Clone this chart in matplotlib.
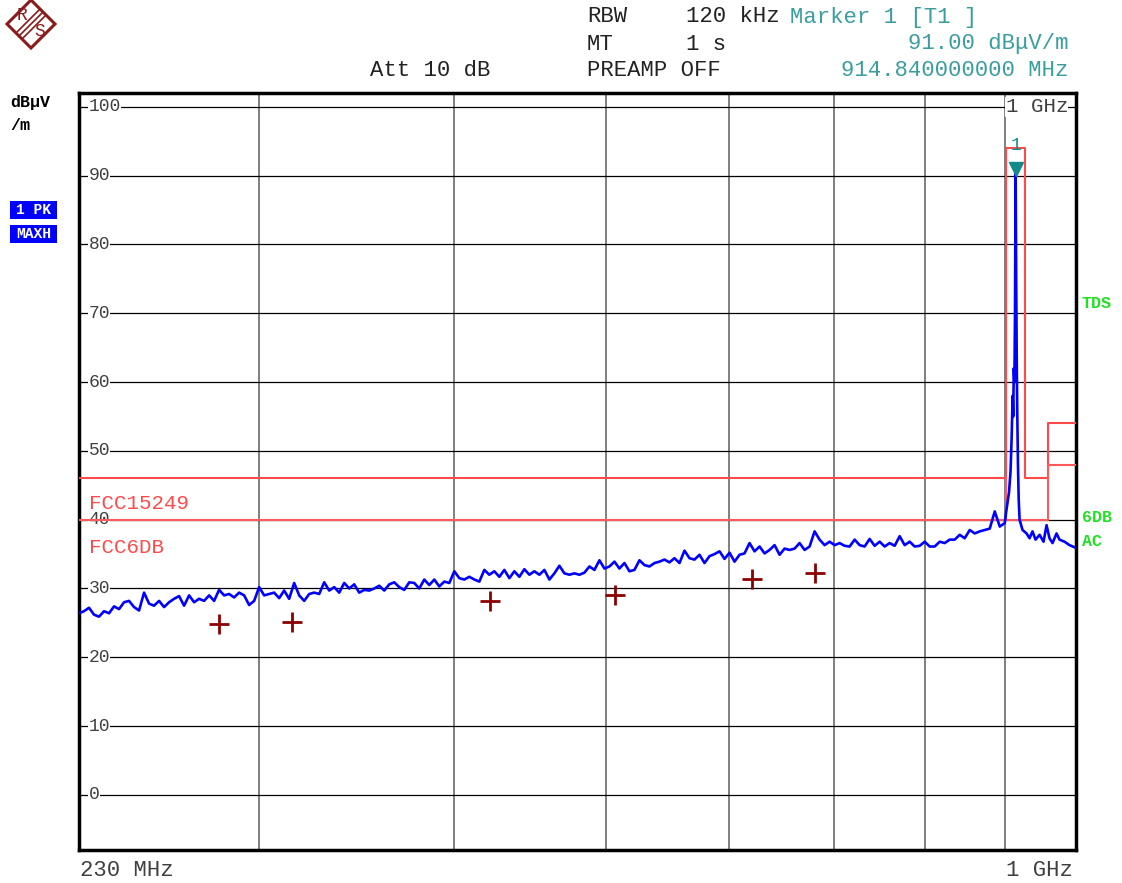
import numpy as np
import matplotlib.pyplot as plt
from matplotlib.patches import Polygon, Rectangle
from matplotlib.transforms import blended_transform_factory

W, H = 1122, 883
MONO = ['Liberation Mono', 'DejaVu Sans Mono']

# max-hold trace, 230 MHz .. 900 MHz (equal log steps)
trace_start, trace_stop = 230.0, 900.3
trace_levels = [
    26.4, 26.7, 27.2, 26.2, 25.9, 26.7, 26.4, 27.4, 27.0, 28.0, 28.2, 27.3, 26.8, 29.4,
    27.8, 27.5, 28.2, 27.3, 28.0, 28.5, 28.9, 27.5, 29.0, 28.0, 28.5, 28.2, 29.0, 28.2,
    29.8, 29.0, 29.2, 28.7, 29.4, 29.0, 27.6, 28.2, 30.2, 29.0, 29.2, 29.4, 28.6, 29.7,
    28.5, 30.8, 29.0, 28.2, 29.2, 29.4, 29.2, 30.9, 29.7, 30.2, 29.4, 30.8, 30.0, 30.6,
    29.4, 29.8, 29.7, 30.0, 30.4, 29.7, 30.6, 30.9, 30.2, 29.8, 30.9,
    30.8, 30.0, 31.3, 30.5, 31.3, 30.3, 31.0, 30.8, 32.5, 31.5, 31.3, 31.7, 31.3, 31.0,
    32.7, 32.0, 32.5, 31.7, 32.7, 31.5, 32.5, 31.7, 32.8, 32.0, 32.5, 32.0, 32.7, 31.3,
    32.2, 33.3, 32.2, 32.0, 32.2, 32.0, 32.3, 33.2, 32.7, 34.1, 32.9, 33.2, 33.9, 32.9,
    33.7, 32.5, 32.7, 34.1, 33.4, 33.2, 33.7, 33.9, 34.2, 33.8, 34.4, 33.7, 35.5, 34.4,
    34.2, 34.9, 33.7, 34.7, 35.0, 35.4, 34.3, 35.2, 33.9, 34.9,
    35.1, 36.6, 35.4, 36.1, 35.1, 35.6, 36.3, 34.9, 35.8, 35.6, 35.8, 36.6, 35.6, 36.1,
    38.3, 37.1, 36.3, 36.8, 36.3, 36.6, 36.2, 36.1, 37.1, 36.3, 36.1, 37.2, 36.2, 36.8,
    36.1, 36.6, 36.2, 37.6, 36.3, 36.8, 36.1, 36.2, 36.8, 36.1, 36.1, 36.8, 36.6, 37.1,
    37.1, 37.8, 37.3, 38.5, 38.0, 38.3, 38.5, 38.7, 41.2, 39.0, 39.5,
]
# carrier at 914.84 MHz
peak_freq = [902.0, 904.0, 906.0, 908.0, 909.5, 910.8, 911.6, 912.4, 913.2, 914.0,
             914.84, 915.6, 916.3, 917.0, 918.0, 919.0]
peak_levels = [41.0, 42.5, 44.0, 47.0, 52.0, 58.0, 55.0, 62.0, 60.0, 70.0,
               91.0, 75.0, 64.0, 56.0, 48.0, 43.0]
# above the carrier
tail_freq = [920.2, 924.2, 929.7, 933.8, 937.9, 942.1, 947.7, 953.3, 957.5, 961.7,
             966.0, 971.7, 976.0, 983.2, 990.5, 1000.0]
tail_levels = [40.0, 38.5, 38.0, 37.3, 38.3, 37.1, 37.8, 36.8, 39.2, 37.3,
               36.6, 38.0, 37.1, 36.8, 36.3, 35.9]

# limit lines
fcc15249_freq = [230, 902, 902, 928, 928, 960, 960, 1000]
fcc15249_level = [46, 46, 94, 94, 46, 46, 54, 54]
fcc6db_freq = [230, 902, 902, 902, 960, 960, 1000]
fcc6db_level = [40, 40, 46, 40, 40, 48, 48]

# quasi-peak results
qp_freq = [282.8, 315.0, 421.4, 506.7, 620.3, 681.0]
qp_level = [24.8, 25.1, 28.2, 29.0, 31.4, 32.3]

marker_freq, marker_level = 914.84, 91.0

grid_freq = [300, 400, 500, 600, 700, 800, 900]
grid_level = [0, 10, 20, 30, 40, 50, 60, 70, 80, 90, 100]


def fx(x):
    return x / W


def fy(y):
    return 1 - y / H


fig = plt.figure(figsize=(W / 100, H / 100), dpi=100)
ax = fig.add_axes([fx(79), fy(850), fx(1076) - fx(79), fy(93) - fy(850)])
ax.set_xscale('log')
ax.set_xlim(230, 1000)
ax.set_ylim(-8, 102)
ax.set_xticks([])
ax.set_yticks([])
ax.minorticks_off()
for s in ax.spines.values():
    s.set_linewidth(2.5)
    s.set_color('black')

for f in grid_freq:
    ax.axvline(f, color='#6a6a6a', lw=1.2, zorder=1)
for lv in grid_level:
    ax.axhline(lv, color='black', lw=0.9, zorder=1)

tr = blended_transform_factory(ax.transAxes, ax.transData)
for lv in grid_level:
    ax.text(0.0095, lv, str(lv), transform=tr, ha='left', va='center',
            family=MONO, fontsize=13, color='#404040', zorder=2,
            bbox=dict(facecolor='white', edgecolor='none', pad=0.3))
ax.text(0.992, 100, '1 GHz', transform=tr, ha='right', va='center',
        family=MONO, fontsize=15, color='#404040', zorder=2,
        bbox=dict(facecolor='white', edgecolor='none', pad=0.3))

# limit lines
ax.plot(fcc15249_freq, fcc15249_level, color='#ff4a4a', lw=1.5, zorder=3)
ax.plot(fcc6db_freq, fcc6db_level, color='#ff5a5a', lw=1.5, zorder=3)
ax.text(0.01, 42.4, 'FCC15249', transform=tr, family=MONO, fontsize=15,
        color='#ff4a4a', va='center', ha='left', zorder=4)
ax.text(0.01, 35.9, 'FCC6DB', transform=tr, family=MONO, fontsize=15,
        color='#ff4a4a', va='center', ha='left', zorder=4)

# trace
trace_freq = np.geomspace(trace_start, trace_stop, len(trace_levels))
freq = np.concatenate([trace_freq, peak_freq, tail_freq])
level = np.concatenate([trace_levels, peak_levels, tail_levels])
ax.plot(freq, level, color='#0000ff', lw=1.9, zorder=5)

# quasi-peak crosses
ax.plot(qp_freq, qp_level, ls='none', marker='+', ms=14, mew=2,
        color='#8b0000', zorder=6)

# marker 1
ax.plot([marker_freq], [marker_level], marker='v', ms=10, color='#138a8a',
        ls='none', zorder=7)
ax.text(marker_freq, 93.2, '1', family=MONO, fontsize=13, color='#138a8a',
        ha='center', va='bottom', zorder=7)

# header
dark = '#222222'
teal = '#3a9e9e'
hdr = dict(family=MONO, fontsize=16, va='center')
fig.text(fx(587), fy(17), 'RBW', color=dark, ha='left', **hdr)
fig.text(fx(686), fy(17), '120 kHz', color=dark, ha='left', **hdr)
fig.text(fx(790), fy(17), 'Marker 1 [T1 ]', color=teal, ha='left', **hdr)
fig.text(fx(587), fy(44), 'MT', color=dark, ha='left', **hdr)
fig.text(fx(686), fy(44), '1 s', color=dark, ha='left', **hdr)
fig.text(fx(1068), fy(44), '91.00 dB\u03bcV/m', color=teal, ha='right', **hdr)
fig.text(fx(370), fy(71), 'Att 10 dB', color=dark, ha='left', **hdr)
fig.text(fx(587), fy(71), 'PREAMP OFF', color=dark, ha='left', **hdr)
fig.text(fx(1068), fy(71), '914.840000000 MHz', color=teal, ha='right', **hdr)

fig.text(fx(80), fy(870), '230 MHz', color='#404040', ha='left', **hdr)
fig.text(fx(1073), fy(870), '1 GHz', color='#404040', ha='right', **hdr)

# unit + trace info on the left
fig.text(fx(10), fy(103), 'dB\u03bcV', family=MONO, fontsize=12, weight='bold',
         color='black', va='center')
fig.text(fx(10), fy(126), '/m', family=MONO, fontsize=12, weight='bold',
         color='black', va='center')
for yy, txt in [(210, '1 PK'), (234, 'MAXH')]:
    fig.patches.append(Rectangle((fx(10), fy(yy + 9)), fx(57) - fx(10), fy(yy - 9) - fy(yy + 9),
                                 transform=fig.transFigure, facecolor='#0000ff',
                                 edgecolor='none'))
    fig.text(fx(33.5), fy(yy), txt, family=MONO, fontsize=10.5, weight='bold',
             color='white', va='center', ha='center')

# right side flags
green = '#22e022'
for yy, txt in [(303, 'TDS'), (518, '6DB'), (542, 'AC')]:
    fig.text(fx(1082), fy(yy), txt, family=MONO, fontsize=12, weight='bold',
             color=green, va='center', ha='left')

# R&S logo
logo = '#8b1a1a'
cx, cy, r = 31, 24, 24
fig.patches.append(Polygon([(fx(cx), fy(cy - r)), (fx(cx + r), fy(cy)), (fx(cx), fy(cy + r)),
                            (fx(cx - r), fy(cy))], closed=True, fill=False,
                           edgecolor=logo, lw=2.2, transform=fig.transFigure))
for d in (-3, 0, 3):
    fig.lines.append(plt.Line2D([fx(cx + r / 2 + d), fx(cx - r / 2 + d)],
                                [fy(cy - r / 2 + d), fy(cy + r / 2 + d)],
                                color=logo, lw=1.2, transform=fig.transFigure))
fig.text(fx(22), fy(16), 'R', family=MONO, fontsize=13, color=logo,
         ha='center', va='center')
fig.text(fx(40), fy(32), 'S', family=MONO, fontsize=13, color=logo,
         ha='center', va='center')

fig.savefig('out.png', dpi=100)
